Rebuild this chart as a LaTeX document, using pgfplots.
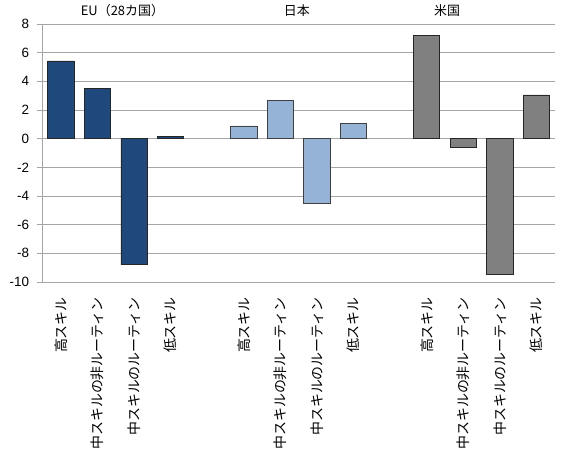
\documentclass[border=0pt]{standalone}
\usepackage{fontspec}
\setmainfont{Liberation Sans}
\newfontfamily\cjk{Noto Sans CJK JP}
\usepackage{pgfplots}
\pgfplotsset{compat=1.18}

\definecolor{eublue}{RGB}{31,73,125}
\definecolor{jplight}{RGB}{149,179,215}
\definecolor{usgray}{RGB}{128,128,128}
\definecolor{gridgray}{RGB}{166,166,166}

\begin{document}
\begin{tikzpicture}
  \begin{axis}[
    scale only axis,
    width=512bp, height=258bp,
    xmin=-0.5, xmax=13.5,
    ymin=-10, ymax=8,
    ytick={-10,-8,...,8},
    xtick={0,1,2,3,5,6,7,8,10,11,12,13},
    xticklabels={高スキル, 中スキルの非ルーティン, 中スキルのルーティン, 低スキル,
                 高スキル, 中スキルの非ルーティン, 中スキルのルーティン, 低スキル,
                 高スキル, 中スキルの非ルーティン, 中スキルのルーティン, 低スキル},
    x tick label style={rotate=90, anchor=east, font=\cjk\fontsize{14}{16}\selectfont, inner sep=1pt},
    y tick label style={font=\fontsize{13.5}{15}\selectfont},
    /pgf/number format/assume math mode=true,
    axis lines*=left,
    axis line style={draw=gridgray, line width=0.9pt},
    ymajorgrids,
    grid style={draw=gridgray, line width=0.9pt},
    xtick style={draw=none},
    ytick style={draw=gridgray, line width=0.9pt},
    tick align=outside,
    major tick length=6bp,
    xticklabel shift=8bp,
    yticklabel shift=4bp,
    ybar=0pt,
    bar width=0.72,
    bar shift=0pt,
    clip=false,
  ]
  \addplot[fill=eublue, draw=black!85, line width=0.8pt] coordinates {
    (0,5.42) (1,3.50) (2,-8.80) (3,0.15)
  };
  \addplot[fill=jplight, draw=black!75, line width=0.8pt] coordinates {
    (5,0.89) (6,2.68) (7,-4.49) (8,1.06)
  };
  \addplot[fill=usgray, draw=black!85, line width=0.8pt] coordinates {
    (10,7.23) (11,-0.61) (12,-9.49) (13,3.05)
  };
  \node[font=\cjk\fontsize{13}{15}\selectfont, yshift=13bp] at (axis cs:1.68,8) {EU（28カ国）};
  \node[font=\cjk\fontsize{13}{15}\selectfont, yshift=13bp] at (axis cs:6.45,8) {日本};
  \node[font=\cjk\fontsize{13}{15}\selectfont, yshift=13bp] at (axis cs:10.56,8) {米国};
  \end{axis}
  \pgfresetboundingbox
  \path (-42.7bp,-173bp) rectangle (519.3bp,282bp);
\end{tikzpicture}
\end{document}
